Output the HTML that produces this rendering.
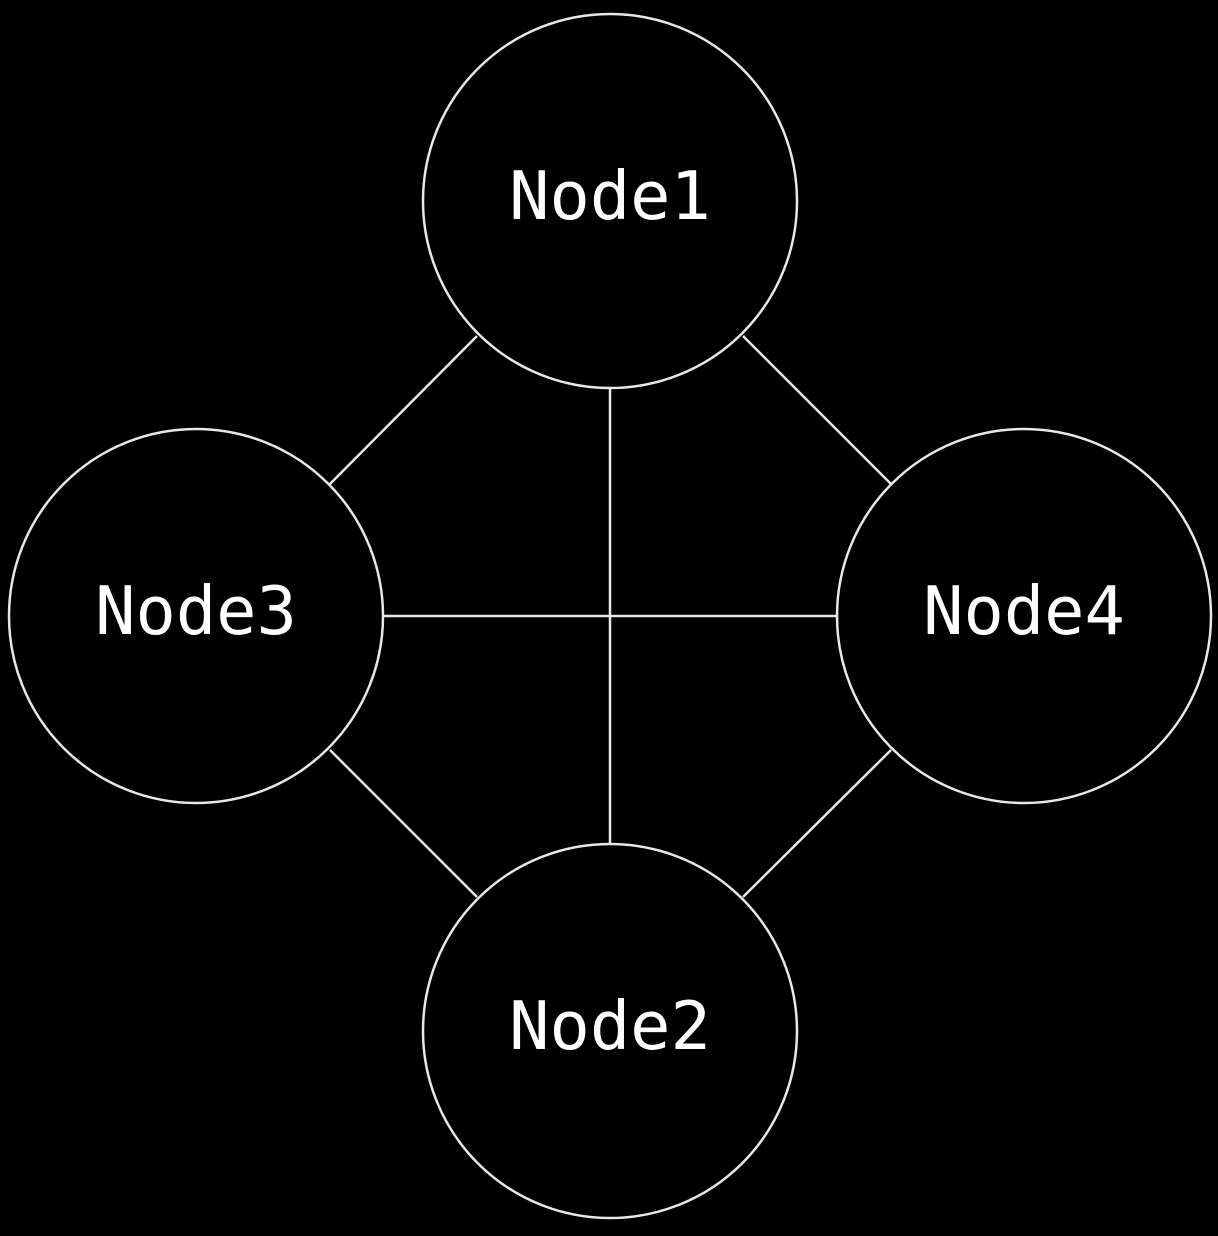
<!DOCTYPE html>
<html><head><meta charset="utf-8"><style>html,body{margin:0;padding:0;background:#000;}svg{display:block}</style></head>
<body>
<svg width="1218" height="1236" viewBox="0 0 1218 1236" xmlns="http://www.w3.org/2000/svg">
<rect width="1218" height="1236" fill="#000"/>
<g stroke="#e8e8e8" stroke-width="2.5" fill="none">
<line x1="610" y1="388" x2="610" y2="844"/>
<line x1="383" y1="616" x2="837" y2="616"/>
<line x1="477" y1="336" x2="330" y2="484"/>
<line x1="743" y1="336" x2="891" y2="484"/>
<line x1="330" y1="750" x2="477" y2="897"/>
<line x1="891" y1="750" x2="743" y2="897"/>
<circle cx="610" cy="201" r="187"/>
<circle cx="196" cy="616" r="187"/>
<circle cx="1024" cy="616" r="187"/>
<circle cx="610" cy="1031" r="187"/>
</g>
<g fill="#fff" font-family="'DejaVu Sans Mono','Liberation Mono',monospace" font-size="67" text-anchor="middle">
<text x="610" y="219">Node1</text>
<text x="196" y="634">Node3</text>
<text x="1024" y="634">Node4</text>
<text x="610" y="1049">Node2</text>
</g>
</svg>
</body></html>
